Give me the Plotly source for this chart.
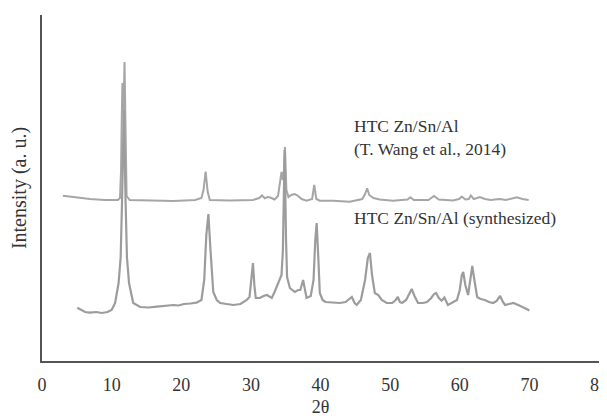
import plotly.graph_objects as go

# XRD pattern: (2theta, intensity in arbitrary units)
wang_points = [
    (3.0, 165.3), (4.5, 164), (6.9, 162), (9.0, 161), (10.9, 161), (11.2, 163),
    (11.35, 190), (11.45, 240), (11.55, 278), (11.65, 250), (11.75, 262), (11.85, 299),
    (12.0, 205), (12.15, 165), (12.6, 161), (15.0, 160.5), (18.9, 160), (22.0, 161),
    (22.9, 163), (23.2, 171), (23.5, 189.3), (23.8, 169), (24.1, 161), (27.0, 160.5),
    (30.3, 161), (31.2, 163), (31.6, 165.5), (32.0, 162.7), (32.4, 164), (32.8, 163.5),
    (33.4, 161.5), (33.9, 165), (34.2, 179), (34.4, 189), (34.6, 181), (34.75, 191),
    (34.9, 214), (35.1, 171), (35.4, 164), (35.8, 166), (36.3, 167), (36.7, 165.5),
    (37.3, 162), (38.0, 160.3), (38.8, 162), (39.1, 176), (39.4, 162), (39.9, 160.3),
    (41.8, 160.3), (44.2, 159.3), (46.0, 162), (46.4, 167), (46.7, 172.7), (47.0, 166),
    (47.6, 163), (48.5, 161.5), (50.4, 160.3), (52.5, 161.5), (52.9, 163.7), (53.4, 161),
    (55.5, 161), (56.3, 165), (57.0, 161.5), (59.0, 160.5), (59.9, 162), (60.3, 164.5),
    (60.8, 161.5), (61.3, 162), (61.6, 165.5), (62.0, 162), (62.5, 163), (62.9, 164),
    (63.6, 162), (64.5, 161), (65.0, 161.5), (65.8, 162), (66.6, 161), (67.5, 162.5),
    (68.2, 163.7), (69.0, 162), (69.9, 161),
]

synth_points = [
    (5.07, 53.3), (5.6, 51), (6.2, 49), (6.9, 48.3), (7.8, 49), (8.6, 48), (9.4, 49),
    (10.0, 51), (10.5, 58), (11.0, 78), (11.3, 104), (11.5, 161), (11.75, 251),
    (12.0, 161), (12.2, 104), (12.5, 78), (13.1, 58), (14.1, 54), (15.3, 53.5),
    (16.5, 54.3), (17.7, 55), (18.9, 56), (19.6, 55.5), (20.4, 57), (21.3, 57.5),
    (22.2, 58.3), (22.9, 61), (23.3, 81), (23.6, 126), (23.9, 147), (24.2, 111),
    (24.6, 69), (25.1, 61), (25.6, 58), (26.5, 57), (27.5, 56), (28.5, 57), (29.4, 61),
    (29.8, 64), (30.1, 81), (30.3, 98), (30.5, 76), (30.7, 63), (31.3, 63), (31.8, 65),
    (32.3, 66), (32.7, 64), (33.0, 63), (33.4, 69), (33.7, 74), (34.0, 78), (34.2, 81),
    (34.4, 86), (34.6, 111), (34.85, 211), (35.05, 121), (35.2, 84), (35.6, 73),
    (36.3, 69), (36.8, 71), (37.1, 71), (37.5, 81), (37.8, 68), (38.0, 63), (38.6, 65),
    (39.0, 81), (39.25, 121), (39.45, 138), (39.7, 101), (39.9, 68), (40.3, 61),
    (40.7, 59), (41.7, 58.5), (42.8, 58), (43.6, 59), (44.2, 62), (44.5, 64), (44.9, 58),
    (45.2, 56), (45.8, 61), (46.4, 81), (46.8, 103), (47.1, 108), (47.4, 86), (47.8, 68),
    (48.3, 66), (48.8, 61), (49.5, 58), (50.3, 58), (50.8, 61), (51.1, 64), (51.4, 59),
    (51.7, 58), (52.3, 61), (52.8, 69), (53.1, 72), (53.5, 65), (54.0, 58), (54.7, 58),
    (55.3, 59), (55.9, 63), (56.3, 67), (56.6, 68), (57.0, 63), (57.4, 60.3), (57.8, 63.5),
    (58.3, 56), (59.0, 59), (59.6, 61), (60.0, 71), (60.3, 86), (60.5, 89), (60.8, 76),
    (61.2, 66), (61.5, 81), (61.8, 95), (62.1, 81), (62.5, 64), (63.0, 62), (63.6, 61),
    (64.2, 59), (64.8, 58), (65.3, 60), (65.8, 65), (66.2, 59), (66.5, 56), (67.1, 57),
    (67.7, 58), (68.4, 56), (69.1, 54), (69.6, 52), (70.0, 50.5),
]

x_ticks = [0, 10, 20, 30, 40, 50, 60, 70, 80]
label_wang = "HTC Zn/Sn/Al<br>(T. Wang et al., 2014)"
label_synth = "HTC Zn/Sn/Al (synthesized)"

FONT = "Liberation Serif, Times New Roman, serif"
TXT = "#333333"

fig = go.Figure()
fig.add_trace(go.Scatter(
    x=[p[0] for p in wang_points], y=[p[1] for p in wang_points],
    mode="lines", line=dict(color="#a6a6a6", width=2), showlegend=False,
))
fig.add_trace(go.Scatter(
    x=[p[0] for p in synth_points], y=[p[1] for p in synth_points],
    mode="lines", line=dict(color="#9c9c9c", width=2.2), showlegend=False,
))

fig.add_annotation(x=44.5, y=224, xref="x", yref="y", text=label_wang,
                   showarrow=False, xanchor="left", yanchor="middle", align="left",
                   font=dict(family=FONT, size=17.5, color=TXT))
fig.add_annotation(x=44.5, y=143, xref="x", yref="y", text=label_synth,
                   showarrow=False, xanchor="left", yanchor="middle", align="left",
                   font=dict(family=FONT, size=17.5, color=TXT))

# page body keeps an 8px margin, so the figure is sized to fit inside it
fig.update_layout(
    width=599, height=412,
    margin=dict(l=34, r=8, t=7, b=59),
    paper_bgcolor="white", plot_bgcolor="white",
    font=dict(family=FONT, color=TXT),
    xaxis=dict(
        range=[0, 80], tickvals=x_ticks, ticktext=[str(t) for t in x_ticks],
        showgrid=False, zeroline=False, showline=True, linecolor="#555555", linewidth=1.5,
        ticks="", ticklabelstandoff=7, automargin=False, ticklabeloverflow="allow",
        tickfont=dict(family=FONT, size=18, color=TXT),
        title=dict(text="2θ", font=dict(family=FONT, size=18, color=TXT), standoff=6),
    ),
    yaxis=dict(
        range=[0, 346], showgrid=False, zeroline=False, showline=True,
        linecolor="#555555", linewidth=1.5, showticklabels=False, ticks="",
        automargin=False,
        title=dict(text="Intensity (a. u.)", font=dict(family=FONT, size=20, color=TXT),
                   standoff=8),
    ),
)

fig.write_html("out.html")
